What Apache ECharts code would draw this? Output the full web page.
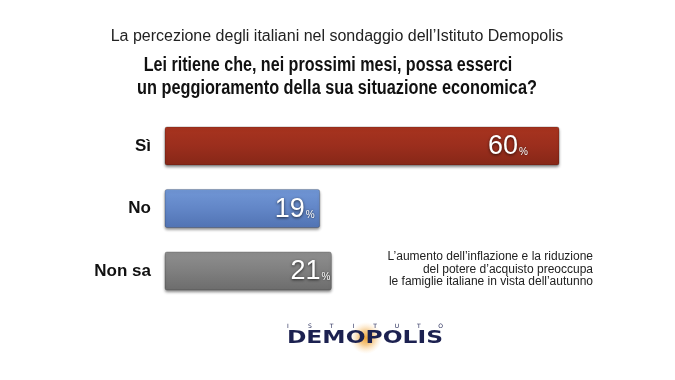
<!DOCTYPE html>
<html>
<head>
<meta charset="utf-8">
<script src="https://cdn.jsdelivr.net/npm/echarts@6/dist/echarts.min.js"></script>
<style>html,body{margin:0;padding:0;background:#fff}#c{width:675px;height:380px}</style>
</head>
<body>
<div id="c"></div>
<script>
// ---- data ----
const categories = ['Sì', 'No', 'Non sa'];
const values = [60, 19, 21];
const titleLine1 = 'La percezione degli italiani nel sondaggio dell\u2019Istituto Demopolis';
const titleLine2 = 'Lei ritiene che, nei prossimi mesi, possa esserci';
const titleLine3 = 'un peggioramento della sua situazione economica?';
const noteLines = ['L\u2019aumento dell\u2019inflazione e la riduzione', 'del potere d\u2019acquisto preoccupa', 'le famiglie italiane in vista dell\u2019autunno'];

// ---- styles ----
const barColors = [
  ['#a8341f', '#9b2e1d', '#862717'],
  ['#7197d6', '#6286c7', '#5173b3'],
  ['#8f8f8f', '#7f7f7f', '#6c6c6c']
];
const labelInset = [31, 5, 1];
const axisMin = -7.5;

const chart = echarts.init(document.getElementById('c'), null, {renderer: 'canvas'});

const boldCond = 'bold 20px "Liberation Sans", Arial, sans-serif';
const graphics = [
  {type: 'text', x: 337, y: 37, style: {text: titleLine1, align: 'center', verticalAlign: 'middle', font: '300 16px "Liberation Sans", "Open Sans", sans-serif', fill: '#222'}},
  {type: 'text', x: 328, y: 65, scaleX: 0.805, style: {text: titleLine2, align: 'center', verticalAlign: 'middle', font: boldCond, fill: '#111'}},
  {type: 'text', x: 337, y: 88, scaleX: 0.814, style: {text: titleLine3, align: 'center', verticalAlign: 'middle', font: boldCond, fill: '#111'}}
];
noteLines.forEach((t, i) => {
  graphics.push({type: 'text', x: 593, y: 257 + i * 12.5, style: {text: t, align: 'right', verticalAlign: 'middle', font: '12px "Liberation Sans", sans-serif', fill: '#222'}});
});
// logo
graphics.push({type: 'circle', shape: {cx: 366, cy: 338, r: 16}, style: {fill: {type: 'radial', x: 0.5, y: 0.5, r: 0.5, colorStops: [{offset: 0, color: 'rgba(240,160,40,0.95)'}, {offset: 0.45, color: 'rgba(240,170,70,0.6)'}, {offset: 1, color: 'rgba(255,220,170,0)'}]}}});
'ISTITUTO'.split('').forEach((ch, i) => {
  graphics.push({type: 'text', x: 288 + i * 21.8, y: 326, style: {text: ch, align: 'center', verticalAlign: 'middle', font: '6px "DejaVu Sans", sans-serif', fill: '#1c2150'}});
});
graphics.push({type: 'text', x: 365, y: 338, scaleX: 1.3, style: {text: 'DEMOPOLIS', align: 'center', verticalAlign: 'middle', font: 'bold 18px "DejaVu Sans", sans-serif', fill: '#1c2150'}});

const option = {
  backgroundColor: '#ffffff',
  animation: false,
  graphic: graphics,
  grid: {left: 165, right: 116, top: 114.75, height: 187.5, containLabel: false},
  xAxis: {type: 'value', min: axisMin, max: 60, show: false},
  yAxis: {
    type: 'category', data: categories, inverse: true,
    axisLine: {show: false}, axisTick: {show: false}, splitLine: {show: false},
    axisLabel: {margin: 14, fontSize: 17, fontWeight: 'bold', color: '#111', fontFamily: '"Liberation Sans", Arial, sans-serif'}
  },
  series: [{
    type: 'custom',
    data: values.map((v, i) => [i, v]),
    encode: {x: 1, y: 0},
    renderItem: function (params, api) {
      const idx = api.value(0);
      const val = api.value(1);
      const s = api.coord([axisMin, idx]);
      const e = api.coord([val, idx]);
      const h = api.size([0, 1])[1] * 0.61;
      const c = barColors[idx];
      return {
        type: 'group',
        children: [
          {type: 'rect', shape: {x: s[0], y: s[1] - h / 2, width: e[0] - s[0], height: h, r: 2},
           style: {fill: {type: 'linear', x: 0, y: 0, x2: 0, y2: 1, colorStops: [{offset: 0, color: c[0]}, {offset: 0.5, color: c[1]}, {offset: 1, color: c[2]}]},
                   stroke: 'rgba(0,0,0,0.25)', lineWidth: 0.8,
                   shadowBlur: 3, shadowOffsetY: 2, shadowColor: 'rgba(0,0,0,0.45)'}},
          {type: 'text', x: e[0] - labelInset[idx], y: s[1] + 1,
           style: {text: '{n|' + val + '}{p|%}', align: 'right', verticalAlign: 'middle',
             rich: {
               n: {fontSize: 27, lineHeight: 27, verticalAlign: 'bottom', fill: '#fff', fontFamily: '"Liberation Sans", sans-serif', textShadowColor: 'rgba(0,0,0,0.7)', textShadowBlur: 3, textShadowOffsetY: 1},
               p: {fontSize: 10, lineHeight: 10, verticalAlign: 'bottom', padding: [0, 0, 3, 1], fill: '#fff', fontFamily: '"Liberation Sans", sans-serif', textShadowColor: 'rgba(0,0,0,0.7)', textShadowBlur: 2}
             }}}
        ]
      };
    }
  }]
};
chart.setOption(option);
</script>
</body>
</html>
